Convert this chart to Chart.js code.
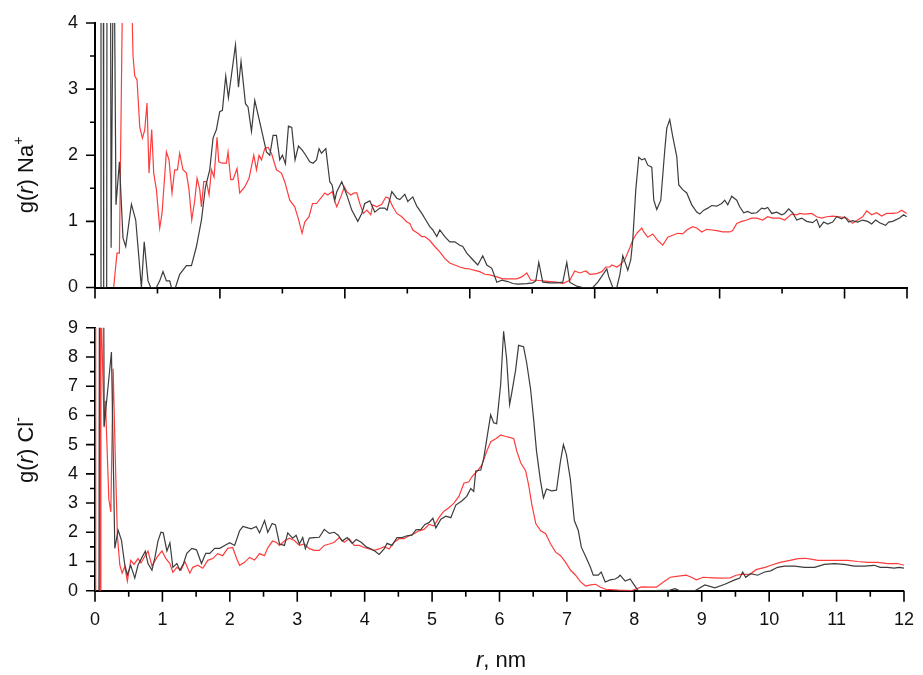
<!DOCTYPE html>
<html>
<head>
<meta charset="utf-8">
<script src="https://cdn.jsdelivr.net/npm/chart.js@4.4.1/dist/chart.umd.min.js"></script>
<style>
  html, body { margin: 0; padding: 0; background: #fff; }
  #painel { position: relative; width: 923px; height: 675px; overflow: hidden; }
  canvas { position: absolute; left: 0; }
  #grafico-na { top: 0; }
  #grafico-cl { top: 310px; }
</style>
</head>
<body>
<div id="painel">
  <canvas id="grafico-na" width="923" height="310"></canvas>
  <canvas id="grafico-cl" width="923" height="365"></canvas>
</div>
<script>
// painel de cima: g(r) Na+ (eixo x proprio, 0..13, sem rotulos)
const naPretoR = [0.088,0.096,0.131,0.139,0.187,0.193,0.246,0.258,0.300,0.336,
  0.391,0.448,0.492,0.583,0.652,0.743,0.788,0.849,0.892,0.983,
  1.036,1.089,1.143,1.196,1.224,1.288,1.356,1.464,1.544,1.624,
  1.704,1.768,1.837,1.890,1.944,1.997,2.040,2.093,2.136,2.194,
  2.249,2.297,2.338,2.409,2.450,2.505,2.558,2.638,2.745,2.798,
  2.851,2.905,2.958,3.001,3.049,3.097,3.150,3.203,3.257,3.315,
  3.374,3.438,3.491,3.546,3.587,3.626,3.695,3.759,3.796,3.839,
  3.871,3.951,4.031,4.111,4.207,4.271,4.319,4.399,4.479,4.559,
  4.639,4.676,4.752,4.832,4.880,4.960,5.008,5.088,5.152,5.232,
  5.296,5.360,5.408,5.472,5.520,5.600,5.680,5.760,5.840,5.888,
  5.952,6.048,6.128,6.208,6.273,6.353,6.433,6.513,6.609,6.689,
  6.769,6.913,7.009,7.057,7.105,7.169,7.281,7.393,7.489,7.553,
  7.601,7.713,7.810,7.970,8.050,8.194,8.226,8.290,8.354,8.402,
  8.450,8.498,8.530,8.578,8.610,8.658,8.706,8.754,8.802,8.850,
  8.914,8.946,8.994,9.058,9.122,9.154,9.202,9.250,9.314,9.346,
  9.410,9.474,9.554,9.634,9.682,9.746,9.810,9.874,9.954,10.034,
  10.082,10.130,10.194,10.274,10.322,10.386,10.450,10.514,10.594,10.674,
  10.722,10.770,10.834,10.914,10.994,11.042,11.106,11.170,11.234,11.314,
  11.394,11.490,11.554,11.602,11.666,11.730,11.810,11.874,11.954,12.002,
  12.066,12.130,12.210,12.290,12.370,12.434,12.498,12.562,12.658,12.706,
  12.770,12.882,12.946,12.994]
const naPretoG = [0,6,6,0,0,6,6,0.6,6,1.25,
  1.9,0.75,0.62,1.26,1.02,0,0.69,0.1,0,0,
  0.1,0.24,0.1,0.1,0,0,0.2,0.33,0.33,0.62,
  1.02,1.52,1.78,2.26,2.39,2.66,2.68,3.2,2.87,3.28,
  3.67,3.03,3.42,2.78,2.73,2.36,2.83,2.5,2.05,2.0,
  2.3,2.3,1.93,2.0,1.87,2.44,2.42,1.93,2.14,2.08,
  2.0,1.9,1.88,1.93,2.1,2.03,2.1,1.6,1.55,1.32,
  1.45,1.6,1.4,1.17,1.0,1.12,1.27,1.31,1.14,1.2,
  1.2,1.17,1.45,1.35,1.33,1.41,1.3,1.37,1.23,1.12,
  1.02,0.92,0.87,0.77,0.87,0.77,0.69,0.69,0.64,0.62,
  0.52,0.42,0.34,0.48,0.34,0.29,0.08,0.11,0.09,0.06,
  0.05,0.06,0.07,0.1,0.38,0.08,0.07,0.07,0.08,0.38,
  0.08,0.02,0,0,0.08,0.28,0.16,0,0,0.19,
  0.48,0.35,0.26,0.42,0.72,1.48,1.97,1.93,1.95,1.85,
  1.82,1.32,1.18,1.32,2.08,2.41,2.54,2.28,1.98,1.55,
  1.48,1.43,1.25,1.14,1.11,1.17,1.2,1.24,1.23,1.27,
  1.32,1.25,1.38,1.32,1.22,1.13,1.15,1.12,1.13,1.2,
  1.19,1.21,1.12,1.14,1.1,1.12,1.19,1.13,1.02,1.05,
  1.0,0.98,1.03,0.91,0.99,0.96,0.99,1.07,1.04,1.07,
  0.99,1.01,0.99,1.02,1.0,0.96,1.02,0.98,0.94,0.99,
  1.0,1.05,1.1,1.07]

const naVermR = [0.299,0.352,0.391,0.460,0.548,0.609,0.636,0.673,0.716,0.759,
  0.796,0.833,0.865,0.908,0.940,0.983,1.036,1.073,1.143,1.185,
  1.233,1.276,1.320,1.356,1.409,1.464,1.505,1.549,1.597,1.634,
  1.677,1.704,1.741,1.784,1.826,1.864,1.906,1.954,1.981,2.034,
  2.104,2.130,2.173,2.210,2.274,2.317,2.397,2.466,2.542,2.585,
  2.626,2.665,2.718,2.771,2.825,2.905,2.985,3.038,3.118,3.198,
  3.262,3.315,3.358,3.427,3.482,3.546,3.631,3.679,3.727,3.800,
  3.839,3.871,3.935,3.992,4.031,4.095,4.153,4.191,4.239,4.297,
  4.351,4.415,4.447,4.511,4.591,4.656,4.704,4.768,4.832,4.912,
  4.992,5.040,5.088,5.168,5.232,5.280,5.360,5.440,5.520,5.600,
  5.680,5.760,5.840,5.920,6.000,6.080,6.160,6.240,6.320,6.433,
  6.529,6.641,6.753,6.833,6.913,6.977,7.073,7.169,7.281,7.393,
  7.489,7.601,7.681,7.762,7.858,7.922,8.034,8.114,8.178,8.242,
  8.274,8.354,8.402,8.482,8.562,8.610,8.674,8.754,8.786,8.850,
  8.930,9.010,9.090,9.170,9.250,9.330,9.410,9.474,9.570,9.634,
  9.714,9.794,9.874,9.954,10.050,10.162,10.210,10.274,10.354,10.434,
  10.514,10.594,10.690,10.770,10.850,10.962,11.042,11.154,11.234,11.282,
  11.362,11.474,11.554,11.634,11.714,11.810,11.922,12.034,12.130,12.210,
  12.290,12.354,12.434,12.514,12.594,12.674,12.770,12.850,12.914,12.994]
const naVermG = [0,0.52,0.52,6,6,3.5,3.2,3.14,2.43,2.26,
  2.38,2.79,1.73,2.39,1.73,1.48,0.9,1.12,2.05,1.93,
  1.43,1.78,1.78,2.03,1.78,1.73,1.48,1.02,1.32,1.65,
  1.48,1.22,1.6,1.6,1.4,1.78,1.67,2.27,1.9,1.88,
  1.88,2.05,1.63,1.63,1.8,1.43,1.52,1.65,2.0,1.78,
  2.0,1.93,2.1,2.12,2.03,1.78,1.73,1.6,1.32,1.22,
  1.02,0.82,0.99,1.07,1.27,1.27,1.37,1.43,1.4,1.45,
  1.3,1.22,1.37,1.52,1.45,1.4,1.43,1.43,1.27,1.12,
  1.17,1.1,1.25,1.22,1.26,1.37,1.35,1.22,1.12,1.07,
  0.99,0.97,0.87,0.82,0.77,0.77,0.71,0.62,0.54,0.44,
  0.37,0.34,0.31,0.29,0.28,0.26,0.24,0.2,0.19,0.16,
  0.13,0.13,0.13,0.16,0.22,0.11,0.11,0.1,0.09,0.08,
  0.06,0.11,0.25,0.22,0.25,0.2,0.21,0.24,0.31,0.31,
  0.34,0.31,0.34,0.42,0.6,0.72,0.82,0.9,0.84,0.76,
  0.81,0.71,0.64,0.76,0.79,0.82,0.81,0.87,0.92,0.9,
  0.84,0.88,0.87,0.86,0.84,0.84,0.86,0.97,1.0,1.02,
  1.05,1.05,1.02,1.07,1.05,1.05,1.02,1.11,1.1,1.12,
  1.11,1.12,1.07,1.05,1.07,1.08,1.07,1.05,0.97,1.02,
  1.07,1.16,1.1,1.13,1.08,1.12,1.12,1.13,1.17,1.12]

// painel de baixo: g(r) Cl- (r em nm, 0..12)
const clPretoR = [0.059,0.066,0.126,0.136,0.244,0.294,0.343,0.392,0.442,0.480,
  0.530,0.590,0.638,0.697,0.746,0.786,0.845,0.889,0.934,0.978,
  1.012,1.067,1.111,1.155,1.214,1.259,1.308,1.362,1.436,1.506,
  1.579,1.643,1.702,1.776,1.850,1.924,1.998,2.071,2.145,2.194,
  2.268,2.318,2.392,2.441,2.515,2.563,2.628,2.677,2.737,2.810,
  2.859,2.933,2.983,3.032,3.081,3.121,3.180,3.253,3.327,3.401,
  3.475,3.549,3.608,3.667,3.741,3.815,3.875,3.949,4.023,4.096,
  4.155,4.215,4.289,4.332,4.406,4.480,4.554,4.628,4.702,4.761,
  4.835,4.894,4.953,5.012,5.056,5.130,5.204,5.278,5.352,5.440,
  5.514,5.574,5.618,5.648,5.722,5.766,5.810,5.869,5.913,5.958,
  6.017,6.061,6.106,6.150,6.180,6.239,6.283,6.357,6.401,6.460,
  6.505,6.549,6.608,6.652,6.697,6.771,6.845,6.904,6.948,6.992,
  7.051,7.110,7.169,7.214,7.273,7.347,7.391,7.465,7.509,7.568,
  7.642,7.716,7.760,7.790,7.864,7.938,7.997,8.056,8.307,8.529,
  8.603,8.677,8.899,9.047,9.195,9.342,9.490,9.564,9.607,9.652,
  9.726,9.829,9.933,10.022,10.125,10.228,10.376,10.524,10.672,10.820,
  10.967,11.115,11.263,11.411,11.559,11.648,11.751,11.855,11.929,12.0]
const clPretoG = [0,12,12,5.63,8.17,1.45,2.07,1.73,0.88,0.54,
  0.87,0.43,0.88,1.14,1.35,0.93,0.7,1.14,1.7,2.0,
  1.98,1.36,1.64,0.8,0.93,0.7,0.9,1.28,1.45,1.4,
  0.93,1.28,1.28,1.45,1.45,1.55,1.64,1.55,2.05,2.2,
  2.15,2.12,2.2,1.98,2.4,2.0,2.3,2.25,1.6,1.55,
  1.98,1.8,1.9,1.6,1.82,1.44,1.8,1.82,1.83,2.1,
  1.96,2.0,1.9,1.7,1.82,1.62,1.75,1.66,1.5,1.43,
  1.35,1.24,1.43,1.62,1.55,1.82,1.82,1.88,1.9,2.08,
  2.1,2.27,2.33,2.48,2.15,2.45,2.55,2.5,2.93,3.07,
  3.23,3.5,3.4,4.1,4.13,4.53,5.17,6.02,5.75,5.72,
  7.05,8.88,7.93,6.37,6.75,7.55,8.4,8.35,7.83,6.92,
  5.9,4.78,3.76,3.18,3.48,3.42,3.44,4.43,5.0,4.67,
  3.82,2.4,2.06,1.49,1.2,0.81,0.53,0.53,0.64,0.3,
  0.37,0.4,0.46,0.53,0.33,0.4,0.2,0,0,0.02,
  0.07,0,0,0.2,0.1,0.22,0.37,0.43,0.64,0.46,
  0.58,0.53,0.64,0.68,0.8,0.84,0.84,0.8,0.8,0.9,
  0.93,0.9,0.84,0.84,0.87,0.8,0.8,0.77,0.8,0.77]

const clVermR = [0.006,0.010,0.066,0.072,0.080,0.087,0.136,0.155,0.205,0.235,
  0.269,0.306,0.332,0.368,0.402,0.442,0.480,0.530,0.579,0.638,
  0.683,0.737,0.786,0.845,0.919,0.993,1.052,1.111,1.155,1.214,
  1.274,1.333,1.407,1.451,1.525,1.599,1.673,1.746,1.820,1.894,
  1.968,2.042,2.101,2.145,2.219,2.293,2.367,2.441,2.515,2.559,
  2.633,2.692,2.737,2.810,2.884,2.958,3.032,3.106,3.180,3.253,
  3.327,3.401,3.475,3.549,3.623,3.697,3.771,3.845,3.919,3.993,
  4.067,4.141,4.215,4.289,4.363,4.437,4.511,4.585,4.659,4.733,
  4.806,4.880,4.954,5.028,5.102,5.176,5.250,5.324,5.398,5.472,
  5.546,5.590,5.664,5.738,5.812,5.871,5.945,6.019,6.093,6.167,
  6.212,6.256,6.315,6.389,6.434,6.478,6.538,6.611,6.685,6.759,
  6.833,6.907,6.981,7.055,7.129,7.203,7.277,7.351,7.425,7.499,
  7.573,7.766,7.958,8.106,8.254,8.327,8.431,8.534,8.653,8.771,
  8.845,8.919,9.022,9.170,9.288,9.421,9.510,9.584,9.717,9.806,
  9.939,10.028,10.161,10.309,10.427,10.531,10.620,10.723,10.871,11.019,
  11.167,11.315,11.463,11.611,11.759,11.907,12.0]
const clVermG = [0,14,14,0,0,10,5.6,6.5,3.14,2.7,
  7.6,4.1,1.9,0.88,0.6,0.83,0.33,1.04,0.9,1.1,
  0.95,1.17,1.36,0.85,1.14,1.36,1.1,0.93,0.63,0.8,
  0.7,1.0,0.6,0.8,0.87,0.77,1.04,1.1,1.27,1.2,
  1.45,1.48,1.1,0.87,0.97,1.14,1.05,1.27,1.2,1.45,
  1.7,1.65,1.55,1.7,1.8,1.72,1.55,1.6,1.44,1.38,
  1.38,1.55,1.6,1.66,1.82,1.66,1.78,1.55,1.55,1.48,
  1.43,1.38,1.43,1.51,1.43,1.66,1.78,1.78,1.88,1.95,
  2.05,2.1,2.27,2.22,2.5,2.72,2.84,3.0,3.23,3.68,
  3.73,3.9,4.08,4.3,4.78,5.1,5.2,5.33,5.28,5.24,
  5.2,4.78,4.38,4.1,3.6,2.97,2.3,2.05,1.95,1.6,
  1.32,1.2,0.97,0.7,0.53,0.3,0.16,0.2,0.22,0.12,
  0.05,0.02,0,0.13,0.12,0.12,0.3,0.46,0.5,0.53,
  0.46,0.37,0.46,0.44,0.43,0.44,0.53,0.56,0.56,0.72,
  0.8,0.87,0.97,1.04,1.1,1.11,1.08,1.04,1.04,1.04,
  1.04,1.0,0.97,0.97,0.93,0.93,0.87]

const FONTE = "'Liberation Sans', Arial, sans-serif"
const COR_PRETA = '#3c3c3c'
const COR_VERMELHA = '#ff3c3c'

// texto com partes em italico / sobrescrito, centrado em (x, y)
function escreverPartes(ctx, partes, x, y, tamanho, girar) {
  ctx.save()
  ctx.translate(x, y)
  if (girar) ctx.rotate(-Math.PI / 2)
  ctx.fillStyle = '#111'
  ctx.textBaseline = 'alphabetic'
  const fonteDe = p =>
    `${p.italico ? 'italic ' : ''}${p.sup ? Math.round(tamanho * 0.62) : tamanho}px ${FONTE}`
  let total = 0
  partes.forEach(p => {
    ctx.font = fonteDe(p)
    total += ctx.measureText(p.t).width
  })
  let cx = -total / 2
  partes.forEach(p => {
    ctx.font = fonteDe(p)
    ctx.fillText(p.t, cx, p.sup ? -tamanho * 0.45 : 0)
    cx += ctx.measureText(p.t).width
  })
  ctx.restore()
}

// marcas dos eixos: longas nos inteiros, curtas nas metades
const marcasEixo = {
  id: 'marcasEixo',
  afterDraw(chart, args, opts) {
    const { ctx, chartArea, scales } = chart
    ctx.save()
    ctx.strokeStyle = '#000'
    ctx.lineWidth = 1.6
    ctx.beginPath()
    scales.x.ticks.forEach(t => {
      const px = scales.x.getPixelForValue(t.value)
      const len = opts.longoX(t.value) ? 11 : 6
      ctx.moveTo(px, chartArea.bottom)
      ctx.lineTo(px, chartArea.bottom + len)
    })
    scales.y.ticks.forEach(t => {
      const py = scales.y.getPixelForValue(t.value)
      const len = Number.isInteger(t.value) ? 9 : 5
      ctx.moveTo(chartArea.left, py)
      ctx.lineTo(chartArea.left - len, py)
    })
    ctx.stroke()
    ctx.restore()
  }
}

const titulosEixo = {
  id: 'titulosEixo',
  afterDraw(chart, args, opts) {
    const ctx = chart.ctx
    ;(opts.itens || []).forEach(it => escreverPartes(ctx, it.partes, it.x, it.y, it.tamanho, it.girar))
  }
}

function montarGrafico(idCanvas, cfg) {
  const canvas = document.getElementById(idCanvas)
  const altura = canvas.height
  return new Chart(canvas, {
    type: 'line',
    data: {
      datasets: cfg.series.map(s => ({
        data: s.r.map((r, i) => ({ x: r, y: s.g[i] })),
        borderColor: s.cor,
        borderWidth: 1.2,
        pointRadius: 0,
        tension: 0,
        fill: false
      }))
    },
    options: {
      responsive: false,
      animation: false,
      events: [],
      layout: { padding: { left: 0, right: 16, top: cfg.topo, bottom: 0 } },
      plugins: {
        legend: { display: false },
        tooltip: { enabled: false },
        marcasEixo: { longoX: cfg.longoX },
        titulosEixo: { itens: cfg.titulos }
      },
      scales: {
        x: {
          type: 'linear',
          min: 0,
          max: cfg.xMax,
          border: { display: true, color: '#000', width: 2 },
          grid: { display: true, drawOnChartArea: false, drawTicks: true, tickLength: 10, color: 'rgba(0,0,0,0)' },
          ticks: {
            stepSize: cfg.xPasso,
            autoSkip: false,
            maxRotation: 0,
            padding: 9,
            color: '#111',
            font: { family: FONTE, size: 18 },
            callback: v => (cfg.rotulosX && Number.isInteger(v) ? String(v) : '')
          },
          afterFit: s => { s.height = altura - cfg.base }
        },
        y: {
          min: 0,
          max: cfg.yMax,
          border: { display: true, color: '#000', width: 2 },
          grid: { display: true, drawOnChartArea: false, drawTicks: true, tickLength: 10, color: 'rgba(0,0,0,0)' },
          ticks: {
            stepSize: 0.5,
            autoSkip: false,
            padding: 7,
            color: '#111',
            font: { family: FONTE, size: 18 },
            callback: v => (Number.isInteger(v) ? String(v) : '')
          },
          afterFit: s => { s.width = 95 }
        }
      }
    },
    plugins: [marcasEixo, titulosEixo]
  })
}

montarGrafico('grafico-na', {
  series: [
    { r: naPretoR, g: naPretoG, cor: COR_PRETA },
    { r: naVermR, g: naVermG, cor: COR_VERMELHA }
  ],
  xMax: 13,
  xPasso: 1,
  yMax: 4,
  topo: 23,
  base: 287.5,
  rotulosX: false,
  longoX: v => v % 2 === 0 || v === 13,
  titulos: [
    {
      partes: [{ t: 'g(' }, { t: 'r', italico: true }, { t: ') Na' }, { t: '+', sup: true }],
      x: 33, y: 175, tamanho: 22, girar: true
    }
  ]
})

montarGrafico('grafico-cl', {
  series: [
    { r: clPretoR, g: clPretoG, cor: COR_PRETA },
    { r: clVermR, g: clVermG, cor: COR_VERMELHA }
  ],
  xMax: 12,
  xPasso: 0.5,
  yMax: 9,
  topo: 15,
  base: 280.7,
  rotulosX: true,
  longoX: v => Number.isInteger(v),
  titulos: [
    {
      partes: [{ t: 'g(' }, { t: 'r', italico: true }, { t: ') Cl' }, { t: '-', sup: true }],
      x: 33, y: 140, tamanho: 22, girar: true
    },
    {
      partes: [{ t: 'r', italico: true }, { t: ', nm' }],
      x: 501, y: 357, tamanho: 22, girar: false
    }
  ]
})
</script>
</body>
</html>
